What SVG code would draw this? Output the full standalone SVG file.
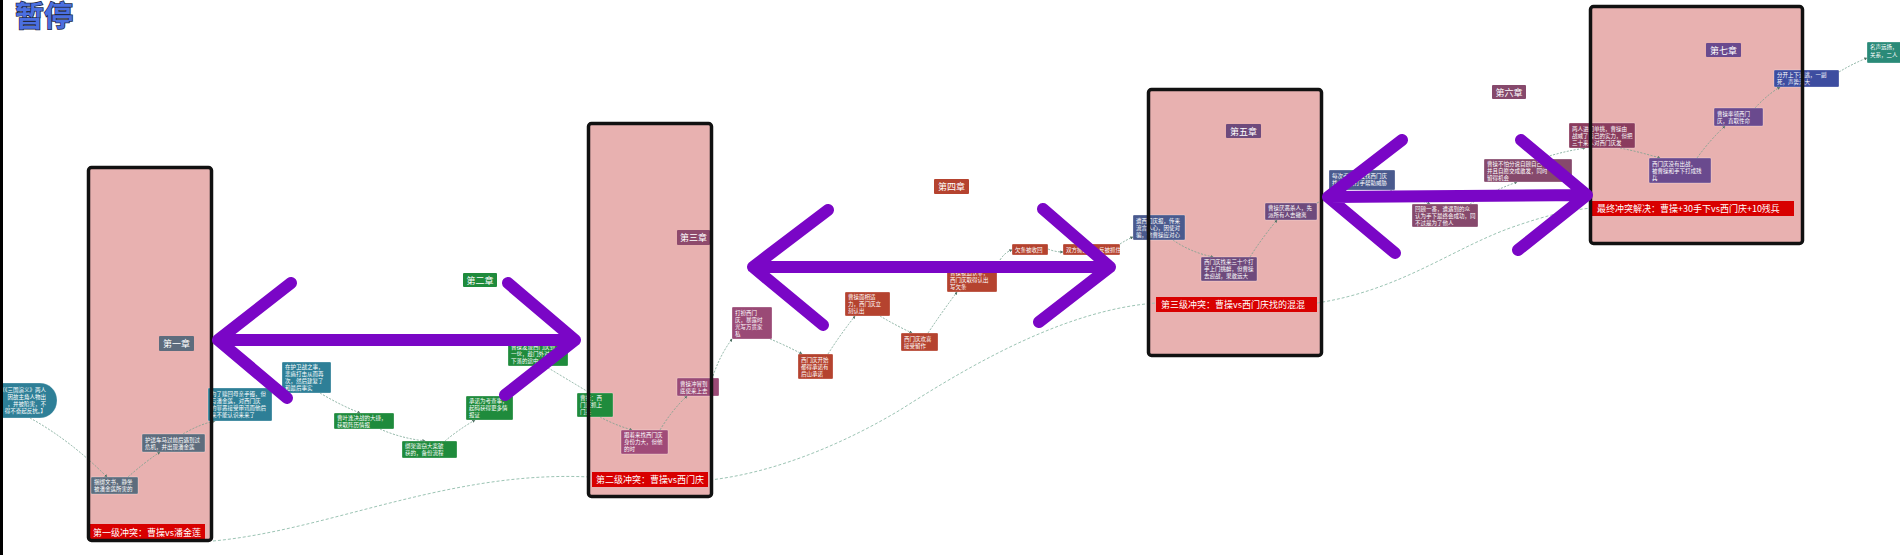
<svg xmlns="http://www.w3.org/2000/svg" width="1900" height="555" viewBox="0 0 1900 555">
<defs>
<style>
text{font-family:"Noto Sans CJK SC","Noto Sans",sans-serif;fill:#fff}
.nd rect{stroke:#ffffff;stroke-opacity:0.35;stroke-width:0.8}
.nd text{font-size:5.5px}
.ch text{font-size:9px;text-anchor:middle}
.rl rect{fill:#d80000}
.rl text{font-size:9px}
.teal{fill:#2e7f97}.gray{fill:#5d6c7d}.green{fill:#1f8b3c}.mauve{fill:#9a4a76}.rust{fill:#b5432f}
.purp{fill:#6e4a7c}.blue{fill:#4a5a8e}.m6{fill:#86496c}.wine{fill:#8a3c5e}.vio{fill:#6a4a8e}.royal{fill:#3d4da0}.sea{fill:#2a8a78}
.bf{fill:#e8b1b0}
.box{fill:none;stroke:#111;stroke-width:3.5}
.cn{fill:none;stroke:#6f9f8c;stroke-width:0.8;stroke-dasharray:2 1.5;marker-end:url(#ah)}
.cf{fill:none;stroke:#9cc4b4;stroke-width:1;stroke-dasharray:3 2}
.arr{fill:none;stroke:#7a06c6;stroke-width:12;stroke-linecap:round;stroke-linejoin:round}
</style>
<marker id="ah" viewBox="0 0 6 6" refX="5" refY="3" markerWidth="4" markerHeight="4" orient="auto">
<path d="M0,0 L6,3 L0,6 z" fill="#4f6f62"/>
</marker>
</defs>
<rect x="0" y="0" width="1900" height="555" fill="#ffffff"/>

<g id="box-fills">
<rect class="bf" x="88.5" y="167.5" width="123" height="373" rx="3"/>
<rect class="bf" x="588.5" y="123.5" width="123" height="373" rx="3"/>
<rect class="bf" x="1148.5" y="89.5" width="173" height="266" rx="3"/>
<rect class="bf" x="1590.5" y="6.5" width="212" height="237" rx="3"/>
</g>

<g id="connectors">
<path class="cf" d="M213,541 C330,530 450,470 590,477"/>
<path class="cf" d="M710,480 C780,472 850,440 900,410 C960,372 1060,310 1156,303"/>
<path class="cf" d="M1317,303 C1400,290 1450,250 1510,228 C1550,214 1570,210 1592,208"/>
<path class="cn" d="M30,418 Q70,440 107,477"/>
<path class="cn" d="M128,477 Q145,462 160,452"/>
<path class="cn" d="M183,434 Q200,424 215,421"/>
<path class="cn" d="M320,393 Q340,405 360,413"/>
<path class="cn" d="M380,429 Q400,438 425,441"/>
<path class="cn" d="M445,441 Q458,430 475,420"/>
<path class="cn" d="M545,366 Q565,378 590,393"/>
<path class="cn" d="M600,417 Q615,425 632,430"/>
<path class="cn" d="M660,430 Q672,410 687,396"/>
<path class="cn" d="M713,376 Q720,355 732,339"/>
<path class="cn" d="M770,339 Q785,345 802,354"/>
<path class="cn" d="M828,354 Q840,335 855,316"/>
<path class="cn" d="M880,316 Q895,325 912,333"/>
<path class="cn" d="M928,333 Q942,312 957,292"/>
<path class="cn" d="M1000,260 Q1005,252 1012,250"/>
<path class="cn" d="M1048,249 Q1055,252 1063,252"/>
<path class="cn" d="M1120,244 Q1126,240 1133,237"/>
<path class="cn" d="M1173,240 Q1190,252 1213,257"/>
<path class="cn" d="M1250,257 Q1262,238 1277,220"/>
<path class="cn" d="M1317,203 Q1323,200 1329,198"/>
<path class="cn" d="M1390,190 Q1410,196 1430,204"/>
<path class="cn" d="M1470,204 Q1490,192 1517,182"/>
<path class="cn" d="M1540,159 Q1560,152 1585,148"/>
<path class="cn" d="M1620,148 Q1640,152 1660,158"/>
<path class="cn" d="M1697,158 Q1710,140 1725,126"/>
<path class="cn" d="M1755,108 Q1767,95 1780,87"/>
<path class="cn" d="M1839,72 Q1852,64 1867,58"/>
</g>

<g id="n1" class="nd"><rect class="teal" x="-20" y="383" width="77" height="35" rx="17"/>
<text text-anchor="end"><tspan x="46" y="392">（《三国演义》两人</tspan><tspan x="46" y="399">因故主角人物出</tspan><tspan x="46" y="406">，并被陷害，不</tspan><tspan x="46" y="413">得不奋起反抗。】</tspan></text></g>
<g id="n2" class="nd"><rect class="gray" x="91" y="477" width="47" height="17" rx="1"/>
<text><tspan x="94" y="484">捆绑文书，静坐</tspan><tspan x="94" y="491">被潘金莲所害的</tspan></text></g>
<g id="n3" class="nd"><rect class="gray" x="142" y="434" width="63" height="18" rx="1"/>
<text><tspan x="145" y="441.5">护送车马过前后遇到过</tspan><tspan x="145" y="448.5">危机，并出现潘金莲</tspan></text></g>
<g id="n4" class="nd"><rect class="teal" x="208" y="388" width="64" height="33" rx="1"/>
<text><tspan x="211" y="396">为了赎回母亲手镯，但</tspan><tspan x="211" y="403">与潘金莲，对西门庆</tspan><tspan x="211" y="410">的罪恶接受审讯而他后</tspan><tspan x="211" y="417">来不能认识来来了</tspan></text></g>
<g id="ch1" class="ch"><rect class="gray" x="159" y="336" width="35" height="15" rx="1"/><text x="176.5" y="347">第一章</text></g>

<g id="ch2" class="ch"><rect class="green" x="463" y="273" width="34" height="14" rx="1"/><text x="480" y="284">第二章</text></g>
<g id="n5" class="nd"><rect class="teal" x="282" y="362" width="49" height="31" rx="1"/>
<text><tspan x="285" y="369">在护卫战之事，</tspan><tspan x="285" y="376">悲痛打击从而再</tspan><tspan x="285" y="383">次，然后建复了</tspan><tspan x="285" y="390">和最后事实</tspan></text></g>
<g id="n6" class="nd"><rect class="green" x="334" y="413" width="60" height="16" rx="1"/>
<text><tspan x="337" y="419.5">曹叶逢决战的大捷，</tspan><tspan x="337" y="426.5">获取阵历情报</tspan></text></g>
<g id="n7" class="nd"><rect class="green" x="402" y="441" width="55" height="17" rx="1"/>
<text><tspan x="405" y="448">绑架盗窃大案破</tspan><tspan x="405" y="455">获的，备份流程</tspan></text></g>
<g id="n8" class="nd"><rect class="green" x="466" y="396" width="47" height="24" rx="1"/>
<text><tspan x="469" y="403">承诺为考查事，</tspan><tspan x="469" y="410">起码获得更多情</tspan><tspan x="469" y="417">报证</tspan></text></g>
<g id="n9" class="nd"><rect class="green" x="508" y="341" width="60" height="25" rx="1"/>
<text><tspan x="511" y="348.5">曹操发现西门庆到</tspan><tspan x="511" y="355.5">一伙，趁门外对</tspan><tspan x="511" y="362.5">下落的途中</tspan></text></g>
<g id="n10" class="nd"><rect class="green" x="577" y="393" width="36" height="24" rx="1"/>
<text><tspan x="580" y="400">曹操：西</tspan><tspan x="580" y="407">门庆抓上</tspan><tspan x="580" y="414">门来</tspan></text></g>

<g id="ch3" class="ch"><rect fill="#8e4a6c" x="677" y="230" width="33" height="15" rx="1"/><text x="693.5" y="241">第三章</text></g>
<g id="n11" class="nd"><rect fill="#a04a78" x="621" y="430" width="47" height="24" rx="1"/>
<text><tspan x="624" y="437">跟着来找西门庆</tspan><tspan x="624" y="444">身份力大，但他</tspan><tspan x="624" y="451">的时</tspan></text></g>
<g id="n12" class="nd"><rect class="mauve" x="677" y="378" width="42" height="18" rx="1"/>
<text><tspan x="680" y="385.5">曹操冲冒到</tspan><tspan x="680" y="392.5">底使来上去</tspan></text></g>
<g id="n13" class="nd"><rect class="mauve" x="732" y="307" width="40" height="32" rx="1"/>
<text><tspan x="735" y="314.5">打扮西门</tspan><tspan x="735" y="321.5">庆，暴露时</tspan><tspan x="735" y="328.5">光写万贯家</tspan><tspan x="735" y="335.5">私</tspan></text></g>

<g id="ch4" class="ch"><rect class="rust" x="934" y="179" width="35" height="15" rx="1"/><text x="951.5" y="190">第四章</text></g>
<g id="n14" class="nd"><rect class="rust" x="798" y="354" width="35" height="25" rx="1"/>
<text><tspan x="801" y="361.5">西门庆开始</tspan><tspan x="801" y="368.5">都得承诺有</tspan><tspan x="801" y="375.5">后山承诺</tspan></text></g>
<g id="n15" class="nd"><rect class="rust" x="845" y="292" width="45" height="24" rx="1"/>
<text><tspan x="848" y="299">曹操面相适</tspan><tspan x="848" y="306">力，西门庆立</tspan><tspan x="848" y="313">刻认出</tspan></text></g>
<g id="n16" class="nd"><rect class="rust" x="901" y="333" width="37" height="18" rx="1"/>
<text><tspan x="904" y="340.5">西门庆欢喜</tspan><tspan x="904" y="347.5">接受留作</tspan></text></g>
<g id="n17" class="nd"><rect class="rust" x="947" y="268" width="50" height="24" rx="1"/>
<text><tspan x="950" y="275">曹操被迫认罪，</tspan><tspan x="950" y="282">西门庆取得认出</tspan><tspan x="950" y="289">写欠条</tspan></text></g>
<g id="n18" class="nd"><rect class="rust" x="1012" y="244" width="36" height="11" rx="1"/>
<text><tspan x="1015" y="251.5">欠条被收回</tspan></text></g>
<g id="n19" class="nd"><rect class="rust" x="1063" y="244" width="57" height="11" rx="1"/>
<text><tspan x="1066" y="251.5">双方撕破脸，反被抓住</tspan></text></g>

<g id="ch5" class="ch"><rect class="purp" x="1226" y="124" width="35" height="14" rx="1"/><text x="1243.5" y="134.5">第五章</text></g>
<g id="n20" class="nd"><rect class="blue" x="1133" y="215" width="52" height="25" rx="1"/>
<text><tspan x="1136" y="222.5">遭西门庆报，传来</tspan><tspan x="1136" y="229.5">流言人心，因使对</tspan><tspan x="1136" y="236.5">骗，他曹操应对心</tspan></text></g>
<g id="n21" class="nd"><rect class="purp" x="1201" y="257" width="56" height="24" rx="1"/>
<text><tspan x="1204" y="264">西门庆找来三十个打</tspan><tspan x="1204" y="271">手上门挑衅，但曹操</tspan><tspan x="1204" y="278">去迎战，果敢远大</tspan></text></g>
<g id="n22" class="nd"><rect class="purp" x="1265" y="203" width="52" height="17" rx="1"/>
<text><tspan x="1268" y="210">曹操厌恶杀人，先</tspan><tspan x="1268" y="217">派所有人去撤离</tspan></text></g>
<g id="n23" class="nd"><rect class="blue" x="1329" y="170" width="66" height="20" rx="1"/>
<text><tspan x="1332" y="177.5">每次手下出发找西门庆</tspan><tspan x="1332" y="184.5">找人组织打手帮助威胁</tspan></text></g>

<g id="ch6" class="ch"><rect class="m6" x="1492" y="85" width="34" height="14" rx="1"/><text x="1509" y="95.5">第六章</text></g>
<g id="n24" class="nd"><rect class="m6" x="1412" y="204" width="66" height="23" rx="1"/>
<text><tspan x="1415" y="211">回顾一番，遭遇到的众</tspan><tspan x="1415" y="218">认为手下最终会成功，同</tspan><tspan x="1415" y="225">不过是为了他人</tspan></text></g>
<g id="n25" class="nd"><rect class="m6" x="1484" y="159" width="88" height="23" rx="1"/>
<text><tspan x="1487" y="166">曹操不怕分说自顾自己</tspan><tspan x="1487" y="173">并且自愿交成敢发，同时</tspan><tspan x="1487" y="180">留得机会</tspan></text></g>

<g id="ch7" class="ch"><rect class="vio" x="1706" y="43" width="35" height="14" rx="1"/><text x="1723.5" y="53.5">第七章</text></g>
<g id="n26" class="nd"><rect class="wine" x="1569" y="123" width="66" height="25" rx="1"/>
<text><tspan x="1572" y="130.5">两人进门单挑，曹操由</tspan><tspan x="1572" y="137.5">战威了自己的实力，但把</tspan><tspan x="1572" y="144.5">三十来人对西门庆发</tspan></text></g>
<g id="n27" class="nd"><rect class="vio" x="1649" y="158" width="62" height="25" rx="1"/>
<text><tspan x="1652" y="165.5">西门庆没有出战，</tspan><tspan x="1652" y="172.5">被曹操和手下打成残</tspan><tspan x="1652" y="179.5">兵</tspan></text></g>
<g id="n28" class="nd"><rect class="vio" x="1714" y="108" width="49" height="18" rx="1"/>
<text><tspan x="1717" y="115.5">曹操率领西门</tspan><tspan x="1717" y="122.5">庆，直取性命</tspan></text></g>
<g id="n29" class="nd"><rect class="royal" x="1774" y="70" width="65" height="17" rx="1"/>
<text><tspan x="1777" y="77">分开上下追逃，一副</tspan><tspan x="1777" y="84">死，声势浩大</tspan></text></g>
<g id="n30" class="nd"><rect class="sea" x="1867" y="42" width="40" height="21" rx="1"/>
<text><tspan x="1870" y="49">名声远扬，</tspan><tspan x="1870" y="57">关系，二人</tspan></text></g>

<g id="conflict1" class="rl"><rect x="88" y="524" width="117" height="16"/><text x="93" y="535.5">第一级冲突：曹操vs潘金莲</text></g>
<g id="conflict2" class="rl"><rect x="592" y="472" width="116" height="15"/><text x="596" y="483">第二级冲突：曹操vs西门庆</text></g>
<g id="conflict3" class="rl"><rect x="1156" y="297" width="161" height="15"/><text x="1161" y="308">第三级冲突：曹操vs西门庆找的混混</text></g>
<g id="conflict4" class="rl"><rect x="1592" y="201" width="202" height="15"/><text x="1597" y="212">最终冲突解决：曹操+30手下vs西门庆+10残兵</text></g>

<g id="box-borders">
<rect class="box" x="88.5" y="167.5" width="123" height="373" rx="3"/>
<rect class="box" x="588.5" y="123.5" width="123" height="373" rx="3"/>
<rect class="box" x="1148.5" y="89.5" width="173" height="266" rx="3"/>
<rect class="box" x="1590.5" y="6.5" width="212" height="237" rx="3"/>
</g>

<g id="arrows">
<path class="arr" d="M291,283 L218,340 L287,398 M218,340 L575,340 M508,283 L575,340 L505,395"/>
<path class="arr" d="M828,210 L753,267 L823,325 M753,267 L1110,267 M1043,209 L1110,267 L1039,322"/>
<path class="arr" d="M1402,140 L1328,197 L1395,253 M1328,197 L1587,195 M1521,140 L1587,195 L1518,250"/>
</g>

<g id="title"><text x="15" y="27" font-size="29" font-weight="bold" stroke="#222a44" stroke-width="1.5" paint-order="stroke" style="fill:#4b6fe0">暂停</text></g>
<rect x="0" y="0" width="3" height="555" fill="#000"/>
</svg>
